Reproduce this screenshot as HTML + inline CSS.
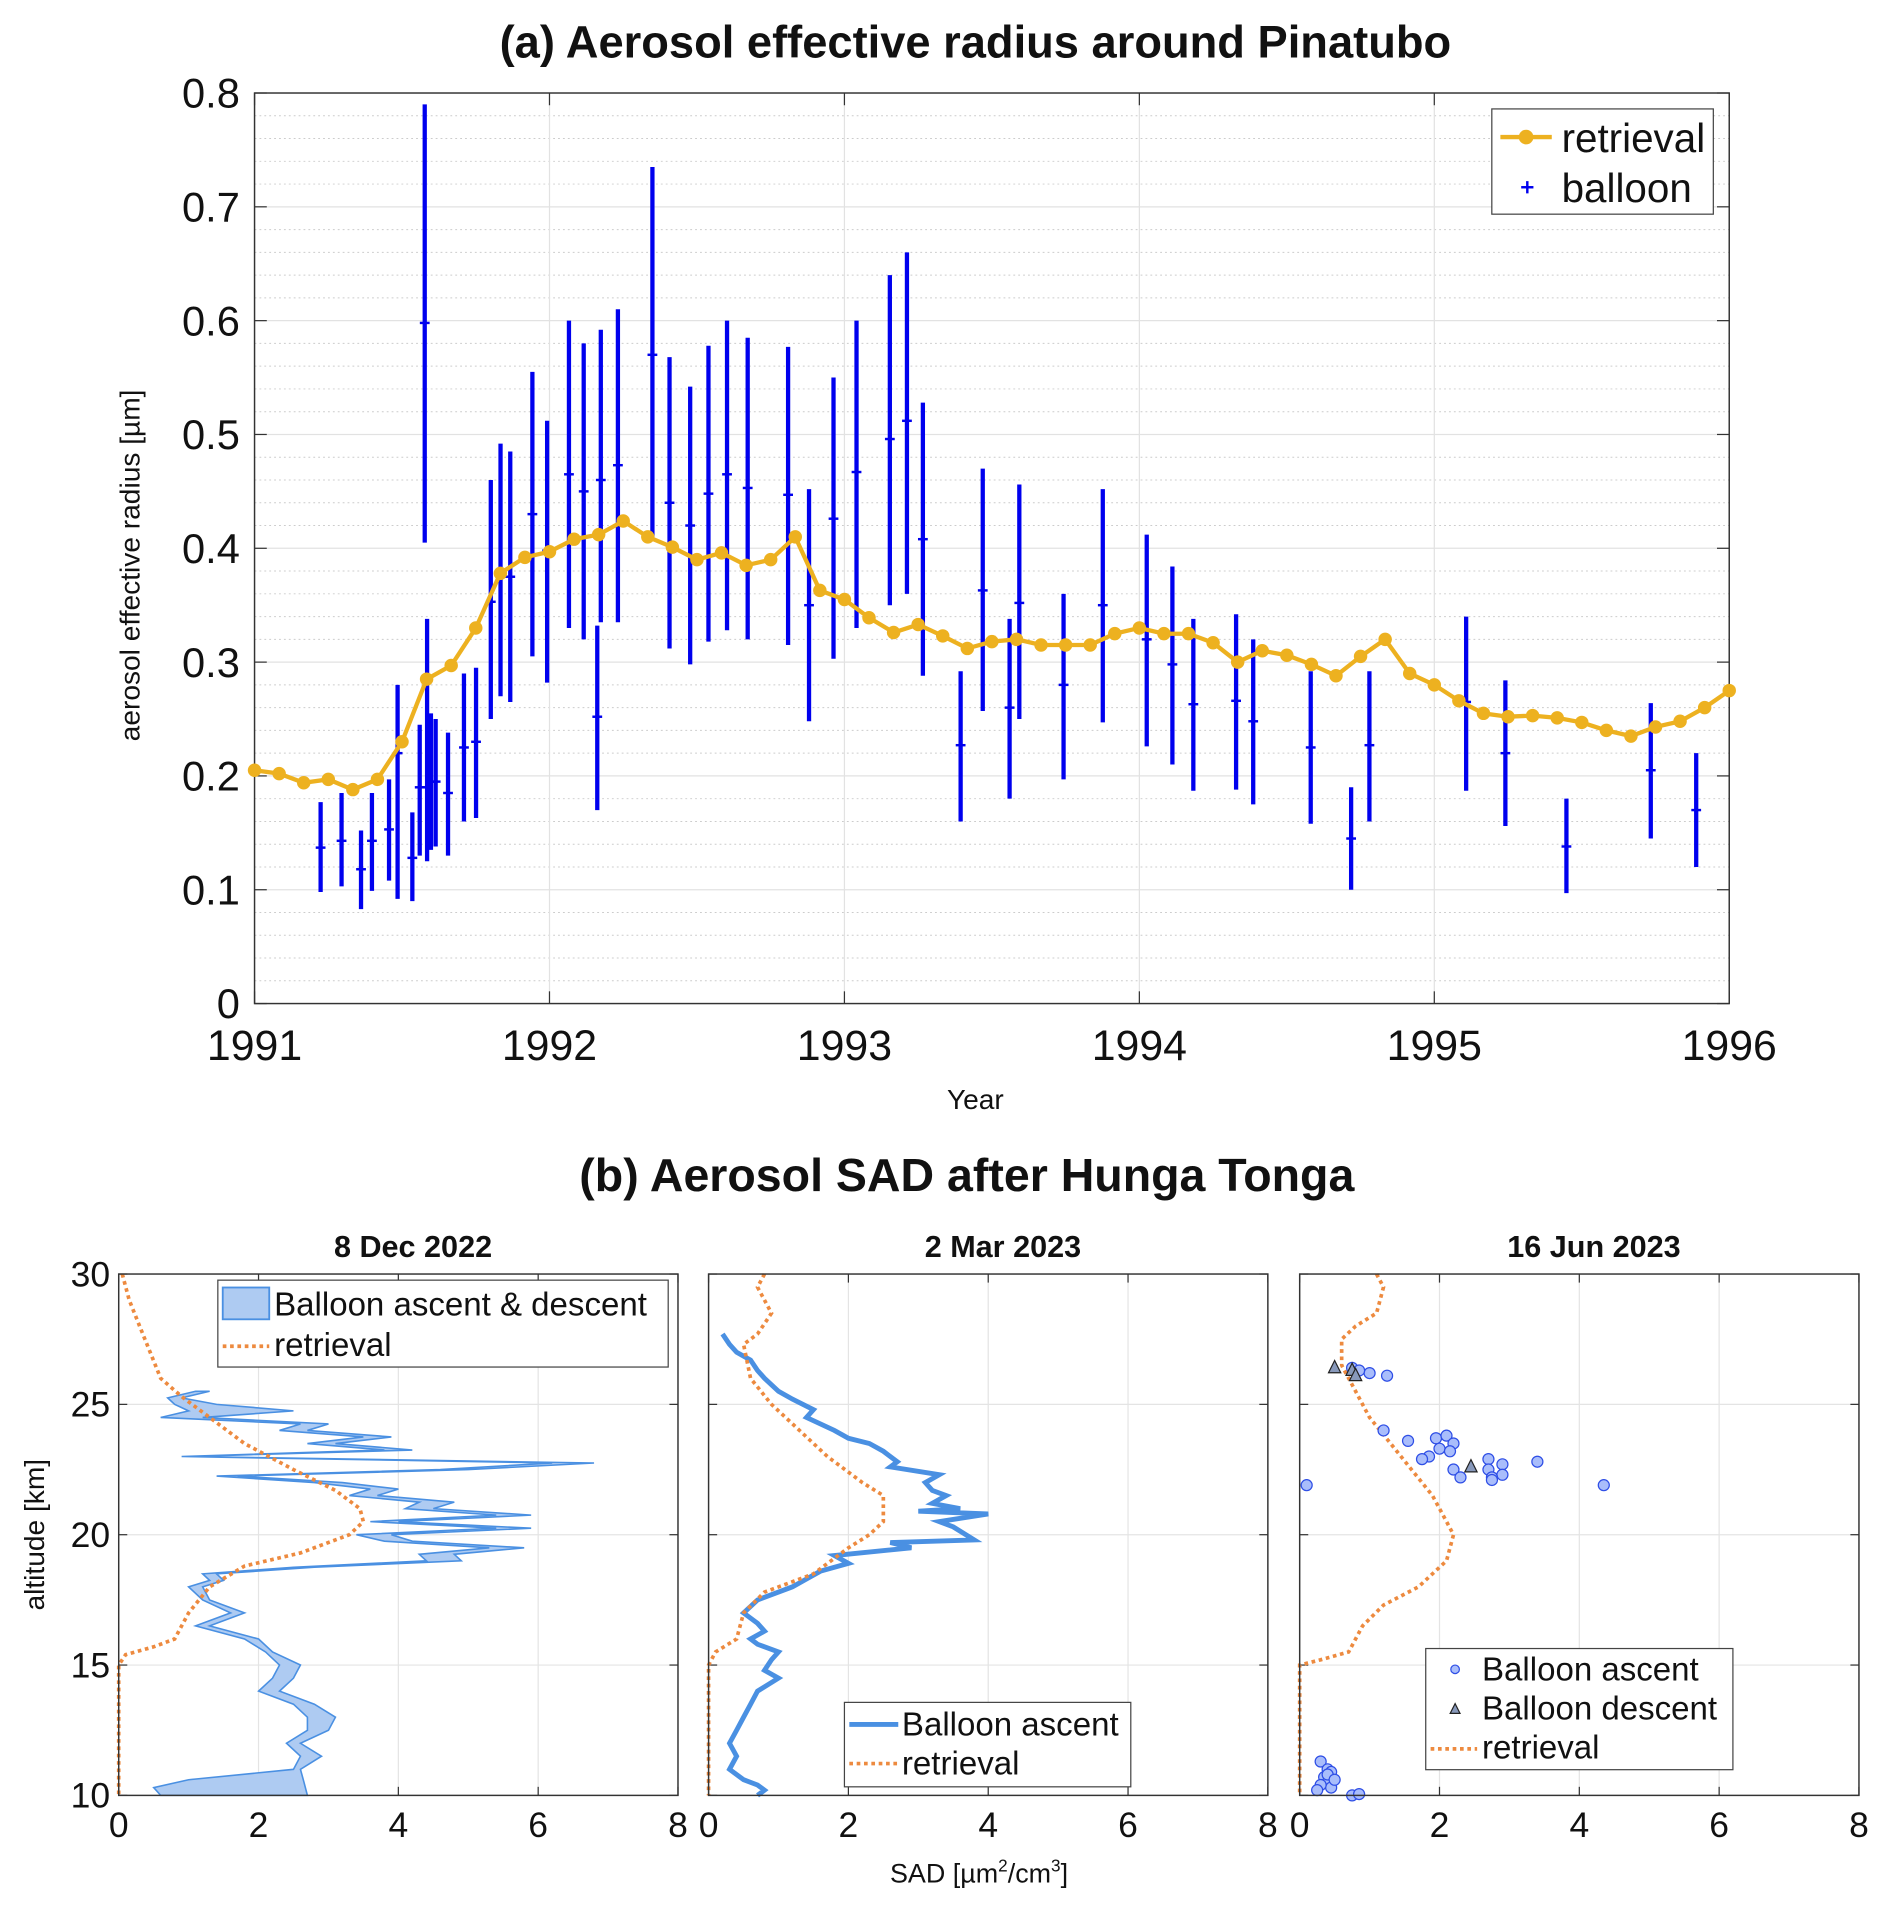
<!DOCTYPE html>
<html><head><meta charset="utf-8"><style>
html,body{margin:0;padding:0;background:#fff}
svg{display:block;font-family:"Liberation Sans",Arial,sans-serif}
</style></head><body>
<svg id="fig" width="1892" height="1919" viewBox="0 0 1546 1568" preserveAspectRatio="none" xmlns="http://www.w3.org/2000/svg"></svg>
<script>
// ---- Panel (a) data ----
const retrievalValues = [0.205,0.202,0.194,0.197,0.188,0.197,0.23,0.285,0.297,0.33,0.378,0.392,
0.397,0.408,0.412,0.424,0.41,0.401,0.39,0.396,0.385,0.39,0.41,0.363,
0.355,0.339,0.326,0.333,0.323,0.312,0.318,0.32,0.315,0.315,0.315,0.325,
0.33,0.325,0.325,0.317,0.3,0.31,0.306,0.298,0.288,0.305,0.32,0.29,
0.28,0.266,0.255,0.252,0.253,0.251,0.247,0.24,0.235,0.243,0.248,0.26,0.275];
const balloonYears = [1991.224,1991.295,1991.361,1991.398,1991.456,1991.485,1991.535,1991.560,1991.577,1991.585,1991.598,1991.614,1991.656,1991.710,1991.751,1991.801,1991.834,1991.867,1991.942,1991.992,
1992.066,1992.116,1992.162,1992.174,1992.232,1992.349,1992.407,1992.477,1992.539,1992.602,1992.672,1992.809,1992.880,1992.963,
1993.041,1993.154,1993.212,1993.266,1993.394,1993.469,1993.560,1993.593,1993.743,1993.876,
1994.025,1994.112,1994.183,1994.328,1994.386,1994.581,1994.718,1994.780,
1995.108,1995.241,1995.448,1995.734,1995.888];
const balloonCenter = [0.137,0.143,0.118,0.143,0.153,0.22,0.128,0.19,0.598,0.19,0.195,0.195,0.185,0.225,0.23,0.353,0.38,0.375,0.43,0.398,
0.465,0.45,0.252,0.46,0.473,0.57,0.44,0.42,0.448,0.465,0.453,0.447,0.35,0.426,
0.467,0.496,0.512,0.408,0.227,0.363,0.26,0.352,0.28,0.35,
0.32,0.298,0.263,0.266,0.248,0.225,0.145,0.227,
0.265,0.22,0.138,0.205,0.17];
const balloonLow = [0.098,0.103,0.083,0.099,0.108,0.092,0.09,0.13,0.405,0.125,0.135,0.138,0.13,0.16,0.163,0.25,0.27,0.265,0.305,0.282,
0.33,0.32,0.17,0.335,0.335,0.41,0.312,0.298,0.318,0.328,0.32,0.315,0.248,0.303,
0.33,0.35,0.36,0.288,0.16,0.257,0.18,0.25,0.197,0.247,
0.226,0.21,0.187,0.188,0.175,0.158,0.1,0.16,
0.187,0.156,0.097,0.145,0.12];
const balloonHigh = [0.177,0.185,0.152,0.185,0.197,0.28,0.168,0.245,0.79,0.338,0.255,0.25,0.238,0.29,0.295,0.46,0.492,0.485,0.555,0.512,
0.6,0.58,0.332,0.592,0.61,0.735,0.568,0.542,0.578,0.6,0.585,0.577,0.452,0.55,
0.6,0.64,0.66,0.528,0.292,0.47,0.338,0.456,0.36,0.452,
0.412,0.384,0.338,0.342,0.32,0.292,0.19,0.292,
0.34,0.284,0.18,0.264,0.22];
const yTicksA = ["0","0.1","0.2","0.3","0.4","0.5","0.6","0.7","0.8"];
const xTicksA = ["1991","1992","1993","1994","1995","1996"];

// ---- Panel (b) data ----
const p1RetSad = [0.05,0.15,0.3,0.45,0.6,0.9,1.3,1.8,2.5,3.1,3.45,3.5,3.3,2.6,1.8,1.3,1.0,0.8,0.5,0.1,0,0];
const p1RetAlt = [30,29,28,27,26,25.3,24.5,23.5,22.5,21.7,21,20.5,20,19.3,18.8,18,17,16,15.7,15.4,15,10];
const p1AscAlt = [10,10.5,11,11.5,12,12.5,13,13.5,14,14.5,15,15.5,16,16.5,17,17.5,18,
18.25,18.5,18.75,19,19.25,19.5,19.75,20,20.25,20.5,20.75,21,21.25,21.5,21.75,22,22.25,22.5,22.75,23,23.25,23.5,23.75,24,24.25,24.5,24.75,25,25.25,25.5];
const p1AscSad = [2.7,2.65,2.6,2.9,2.6,3.0,3.1,2.8,2.3,2.5,2.6,2.2,2.0,1.3,1.8,1.3,1.2,
1.5,1.4,2.8,4.9,4.8,5.8,4.2,3.9,5.9,4.0,5.9,4.5,4.8,3.7,4.0,3.2,1.7,5.0,6.8,1.0,4.2,3.1,3.9,2.7,3.0,1.2,2.5,1.4,0.9,1.3];
const p1DesAlt = [10,10.3,10.6,11,11.5,12,12.5,13,13.5,14,14.5,15,15.5,16,16.5,17,17.5,18,
18.25,18.5,18.75,19,19.25,19.5,19.75,20,20.25,20.5,20.75,21,21.25,21.5,21.75,22,22.25,22.5,22.75,23,23.25,23.5,23.75,24,24.25,24.5,24.75,25,25.25,25.5];
const p1DesSad = [0.6,0.5,1.0,2.5,2.6,2.4,2.7,2.7,2.5,2.0,2.2,2.3,2.1,1.8,1.1,1.6,1.2,1.0,
1.3,1.2,2.5,4.4,4.3,5.3,3.8,3.4,5.4,3.6,5.4,4.1,4.3,3.3,3.6,2.8,1.4,4.6,6.2,0.9,3.8,2.7,3.5,2.3,2.6,0.6,1.0,0.8,0.7,1.1];
const p2RetSad = [0.8,0.7,0.9,0.7,0.5,0.6,0.9,1.3,1.7,2.2,2.5,2.5,2.3,2.0,1.5,0.8,0.5,0.4,0.1,0,0];
const p2RetAlt = [30,29.5,28.5,27.7,27.3,26,25,24,23,22,21.5,20.5,20,19.5,18.5,17.8,17,16,15.5,15,10];
const p2AscSad = [0.2,0.3,0.4,0.6,0.7,0.8,1.0,1.2,1.5,1.4,1.8,2.0,2.3,2.5,2.7,2.6,3.3,3.1,3.2,3.4,3.2,3.6,3.0,4.0,3.3,3.5,3.8,2.6,2.9,1.8,2.0,1.6,1.4,1.2,0.9,0.7,0.5,0.7,0.8,0.6,0.7,1.0,0.9,0.8,1.0,0.7,0.6,0.5,0.4,0.3,0.4,0.3,0.5,0.7,0.8,0.7];
const p2AscAlt = [27.7,27.3,27,26.7,26.3,26,25.5,25.2,24.8,24.5,24,23.7,23.5,23.2,22.8,22.6,22.3,22,21.7,21.5,21.2,21,20.9,20.8,20.5,20.3,19.8,19.7,19.5,19.2,18.9,18.6,18.3,18,17.7,17.5,17,16.6,16.3,16,15.8,15.5,15.2,14.8,14.5,14,13.5,13,12.5,12,11.5,11,10.6,10.4,10.2,10];
const p3RetSad = [1.1,1.2,1.1,0.8,0.6,0.6,0.8,1.0,1.3,1.6,1.9,2.1,2.2,2.1,1.7,1.2,0.9,0.7,0.3,0,0];
const p3RetAlt = [30,29.5,28.5,28,27.5,26.5,25.5,24.5,23.5,22.5,21.5,20.5,20,19,18,17.3,16.5,15.5,15.2,15,10];
const p3AscSad = [0.1,1.2,1.55,1.95,2.1,2.2,1.85,2.0,2.15,1.75,2.7,2.9,3.4,2.2,2.7,2.9,2.75,4.35,2.3,2.75,0.75,1.0,1.25,0.85,0.3,0.4,0.45,0.35,0.4,0.45,0.3,0.25,0.75,0.85,0.4,0.5];
const p3AscAlt = [21.9,24,23.6,23.7,23.8,23.5,23.0,23.3,23.2,22.9,22.9,22.7,22.8,22.5,22.5,22.3,22.2,21.9,22.2,22.1,26.4,26.2,26.1,26.3,11.3,11,10.9,10.7,10.5,10.3,10.4,10.2,10.0,10.05,10.8,10.6];
const p3DesSad = [0.5,0.75,0.8,2.45];
const p3DesAlt = [26.4,26.3,26.1,22.6];
const sadTicks = ["0","2","4","6","8"];
const altTicks = ["10","15","20","25","30"];

const svg = document.getElementById('fig');
const NS = 'http://www.w3.org/2000/svg';
function el(tag, attrs, parent){const e=document.createElementNS(NS,tag);for(const k in attrs)e.setAttribute(k,attrs[k]);(parent||svg).appendChild(e);return e;}
function txt(s, attrs, parent){const e=el('text',attrs,parent);e.textContent=s;return e;}

// ===== Panel (a) =====
const AX0=208, AX1=1413, AY0=820, AY1=76;
const xA = y => AX0 + (y-1991)/5*(AX1-AX0);
const yA = v => AY0 - v/0.8*(AY0-AY1);
const gA = el('g',{});


const t1 = txt('(a)  Aerosol effective radius around Pinatubo',{x:797,y:47,'text-anchor':'middle','font-size':37,'font-weight':'bold',fill:'#111'},gA);


el('rect',{x:AX0,y:AY1,width:AX1-AX0,height:AY0-AY1,fill:'#fff'},gA);
for(let v=0.02; v<0.8; v+=0.02){ if(Math.abs(v*10-Math.round(v*10))<1e-6) continue;
  el('line',{x1:AX0,x2:AX1,y1:yA(v),y2:yA(v),stroke:'#ccc','stroke-width':0.8,'stroke-dasharray':'1.5 2.5'},gA);}
yTicksA.forEach((s,i)=>{const v=i*0.1;
  if(i>0&&i<8) el('line',{x1:AX0,x2:AX1,y1:yA(v),y2:yA(v),stroke:'#e2e2e2','stroke-width':1},gA);
  el('line',{x1:AX0,x2:AX0+10,y1:yA(v),y2:yA(v),stroke:'#333'},gA);
  el('line',{x1:AX1-10,x2:AX1,y1:yA(v),y2:yA(v),stroke:'#333'},gA);
  const tl=txt(s,{x:AX0-12,y:yA(v)+12,'text-anchor':'end','font-size':34,fill:'#111'},gA);
  
  
});
xTicksA.forEach((s,i)=>{const x=xA(1991+i);
  if(i>0&&i<5) el('line',{x1:x,x2:x,y1:AY1,y2:AY0,stroke:'#e2e2e2','stroke-width':1},gA);
  el('line',{x1:x,x2:x,y1:AY0,y2:AY0-10,stroke:'#333'},gA);
  el('line',{x1:x,x2:x,y1:AY1,y2:AY1+10,stroke:'#333'},gA);
  const tl=txt(s,{x:x,y:866,'text-anchor':'middle','font-size':35,fill:'#111'},gA);
  
  
});
el('rect',{x:AX0,y:AY1,width:AX1-AX0,height:AY0-AY1,fill:'none',stroke:'#333','stroke-width':1.2},gA);
const yl=txt('aerosol effective radius [µm]',{x:0,y:0,transform:'translate(114,462) rotate(-90)','text-anchor':'middle','font-size':23,fill:'#111'},gA);


const xl=txt('Year',{x:797,y:906,'text-anchor':'middle','font-size':23,fill:'#111'},gA);


// balloon bars
balloonYears.forEach((yr,i)=>{
  const x=xA(yr);
  const b=el('line',{x1:x,x2:x,y1:yA(balloonLow[i]),y2:yA(balloonHigh[i]),stroke:'#0000ee','stroke-width':3.5},gA);
  
  
  el('line',{x1:x-4,x2:x+4,y1:yA(balloonCenter[i]),y2:yA(balloonCenter[i]),stroke:'#0000ee','stroke-width':2},gA);
});
// retrieval
const rp=retrievalValues.map((v,i)=>xA(1991+i/12).toFixed(1)+','+yA(v).toFixed(1)).join(' ');
const rl=el('polyline',{points:rp,fill:'none',stroke:'#edb120','stroke-width':3.5},gA);


retrievalValues.forEach((v,i)=>{
  const c=el('circle',{cx:xA(1991+i/12),cy:yA(v),r:5.5,fill:'#edb120'},gA);
  
  
});
// legend a
const lgA=el('g',{},gA);


el('rect',{x:1219,y:89,width:181,height:86,fill:'#fff',stroke:'#444','stroke-width':1},lgA);
el('line',{x1:1226,x2:1268,y1:112,y2:112,stroke:'#edb120','stroke-width':3.5},lgA);
el('circle',{cx:1247,cy:112,r:6,fill:'#edb120'},lgA);
txt('retrieval',{x:1276,y:124,'font-size':33,fill:'#111'},lgA);
el('line',{x1:1243,x2:1253,y1:153,y2:153,stroke:'#0000ee','stroke-width':2},lgA);
el('line',{x1:1248,x2:1248,y1:148,y2:158,stroke:'#0000ee','stroke-width':2},lgA);
txt('balloon',{x:1276,y:165,'font-size':33,fill:'#111'},lgA);

// ===== Panel (b) =====
const BY0=1467, BY1=1041;
const yB = a => BY0 - (a-10)/20*(BY0-BY1);
const panels=[{x0:97,title:'8 Dec 2022'},{x0:579,title:'2 Mar 2023'},{x0:1062,title:'16 Jun 2023'}];
const PW=457;
const bt=txt('(b)  Aerosol SAD after Hunga Tonga',{x:790,y:973,'text-anchor':'middle','font-size':38,'font-weight':'bold',fill:'#111'});


const groups=panels.map((p,pi)=>{
  const g=el('g',{});
  
  
  const xS=s=>p.x0+s/8*PW;
  p.xS=xS;
  el('rect',{x:p.x0,y:BY1,width:PW,height:BY0-BY1,fill:'#fff'},g);
  [2,4,6].forEach(s=>el('line',{x1:xS(s),x2:xS(s),y1:BY1,y2:BY0,stroke:'#e4e4e4'},g));
  [15,20,25].forEach(a=>el('line',{x1:p.x0,x2:p.x0+PW,y1:yB(a),y2:yB(a),stroke:'#e4e4e4'},g));
  sadTicks.forEach((s,i)=>{const x=xS(i*2);
    el('line',{x1:x,x2:x,y1:BY0,y2:BY0-7,stroke:'#333'},g);
    el('line',{x1:x,x2:x,y1:BY1,y2:BY1+7,stroke:'#333'},g);
    const tl=txt(s,{x:x,y:1501,'text-anchor':'middle','font-size':29,fill:'#111'},g);
    
    
  });
  altTicks.forEach((s,i)=>{const y=yB(10+i*5);
    el('line',{x1:p.x0,x2:p.x0+7,y1:y,y2:y,stroke:'#333'},g);
    el('line',{x1:p.x0+PW-7,x2:p.x0+PW,y1:y,y2:y,stroke:'#333'},g);
    if(pi===0){const tl=txt(s,{x:p.x0-7,y:y+10,'text-anchor':'end','font-size':29,fill:'#111'},g);
      
      }
  });
  const st=txt(p.title,{x:p.x0+PW/2+12,y:1027,'text-anchor':'middle','font-size':25,'font-weight':'bold',fill:'#111'},g);
  
  
  return g;
});
function pts(xs,ys,xS){return xs.map((s,i)=>xS(s).toFixed(1)+','+yB(ys[i]).toFixed(1)).join(' ');}
const ORANGE='#ed8a3f', BLUE='#4a90e2';
// subplot 1
{const p=panels[0],g=groups[0];
 const poly=pts(p1AscSad,p1AscAlt,p.xS)+' '+pts(p1DesSad.slice().reverse(),p1DesAlt.slice().reverse(),p.xS);
 const f=el('polygon',{points:poly,fill:'#aecbf2',stroke:BLUE,'stroke-width':1.3},g);
 
 
 const r=el('polyline',{points:pts(p1RetSad,p1RetAlt,p.xS),fill:'none',stroke:ORANGE,'stroke-width':3,'stroke-dasharray':'3 3'},g);
 
 
 const lg=el('g',{},g);
 
 
 el('rect',{x:178,y:1046,width:368,height:71,fill:'#fff',stroke:'#444'},lg);
 el('rect',{x:182,y:1052,width:38,height:26,fill:'#aecbf2',stroke:BLUE,'stroke-width':1.5},lg);
 txt('Balloon ascent & descent',{x:224,y:1075,'font-size':27,fill:'#111'},lg);
 el('line',{x1:182,x2:220,y1:1100,y2:1100,stroke:ORANGE,'stroke-width':3,'stroke-dasharray':'3 3'},lg);
 txt('retrieval',{x:224,y:1108,'font-size':27,fill:'#111'},lg);
}
// subplot 2
{const p=panels[1],g=groups[1];
 const a=el('polyline',{points:pts(p2AscSad,p2AscAlt,p.xS),fill:'none',stroke:BLUE,'stroke-width':4},g);
 
 
 const r=el('polyline',{points:pts(p2RetSad,p2RetAlt,p.xS),fill:'none',stroke:ORANGE,'stroke-width':3,'stroke-dasharray':'3 3'},g);
 
 
 const lg=el('g',{},g);
 
 
 el('rect',{x:690,y:1391,width:234,height:69,fill:'#fff',stroke:'#444'},lg);
 el('line',{x1:694,x2:734,y1:1409,y2:1409,stroke:BLUE,'stroke-width':4},lg);
 txt('Balloon ascent',{x:737,y:1418,'font-size':27,fill:'#111'},lg);
 el('line',{x1:694,x2:734,y1:1441,y2:1441,stroke:ORANGE,'stroke-width':3,'stroke-dasharray':'3 3'},lg);
 txt('retrieval',{x:737,y:1450,'font-size':27,fill:'#111'},lg);
}
// subplot 3
{const p=panels[2],g=groups[2];
 const r=el('polyline',{points:pts(p3RetSad,p3RetAlt,p.xS),fill:'none',stroke:ORANGE,'stroke-width':3,'stroke-dasharray':'3 3'},g);
 
 
 p3AscSad.forEach((s,i)=>{
   const c=el('circle',{cx:p.xS(s),cy:yB(p3AscAlt[i]),r:4.5,fill:'#a9bdfb',stroke:'#2e4ee6','stroke-width':1},g);
   
   
 });
 p3DesSad.forEach((s,i)=>{
   const x=p.xS(s),y=yB(p3DesAlt[i]);
   const t=el('polygon',{points:`${x},${y-6} ${x-5},${y+4} ${x+5},${y+4}`,fill:'#8899bb',stroke:'#222','stroke-width':1},g);
   
   
 });
 const lg=el('g',{},g);
 
 
 el('rect',{x:1165,y:1347,width:251,height:99,fill:'#fff',stroke:'#444'},lg);
 el('circle',{cx:1189,cy:1364,r:3.5,fill:'#a9bdfb',stroke:'#2e4ee6'},lg);
 txt('Balloon ascent',{x:1211,y:1373,'font-size':27,fill:'#111'},lg);
 el('polygon',{points:'1189,1392 1185,1400 1193,1400',fill:'#8899bb',stroke:'#222'},lg);
 txt('Balloon descent',{x:1211,y:1405,'font-size':27,fill:'#111'},lg);
 el('line',{x1:1169,x2:1207,y1:1429,y2:1429,stroke:ORANGE,'stroke-width':3,'stroke-dasharray':'3 3'},lg);
 txt('retrieval',{x:1211,y:1437,'font-size':27,fill:'#111'},lg);
}
groups.forEach((g,i)=>el('rect',{x:panels[i].x0,y:BY1,width:PW,height:BY0-BY1,fill:'none',stroke:'#333','stroke-width':1.2},g));
const al=txt('altitude [km]',{x:0,y:0,transform:'translate(36,1254) rotate(-90)','text-anchor':'middle','font-size':23,fill:'#111'});


const sl=el('text',{x:800,y:1538,'text-anchor':'middle','font-size':22,fill:'#111'});


sl.innerHTML='SAD [µm<tspan dy="-9" font-size="14">2</tspan><tspan dy="9">/cm</tspan><tspan dy="-9" font-size="14">3</tspan><tspan dy="9">]</tspan>';
</script>
</body></html>
